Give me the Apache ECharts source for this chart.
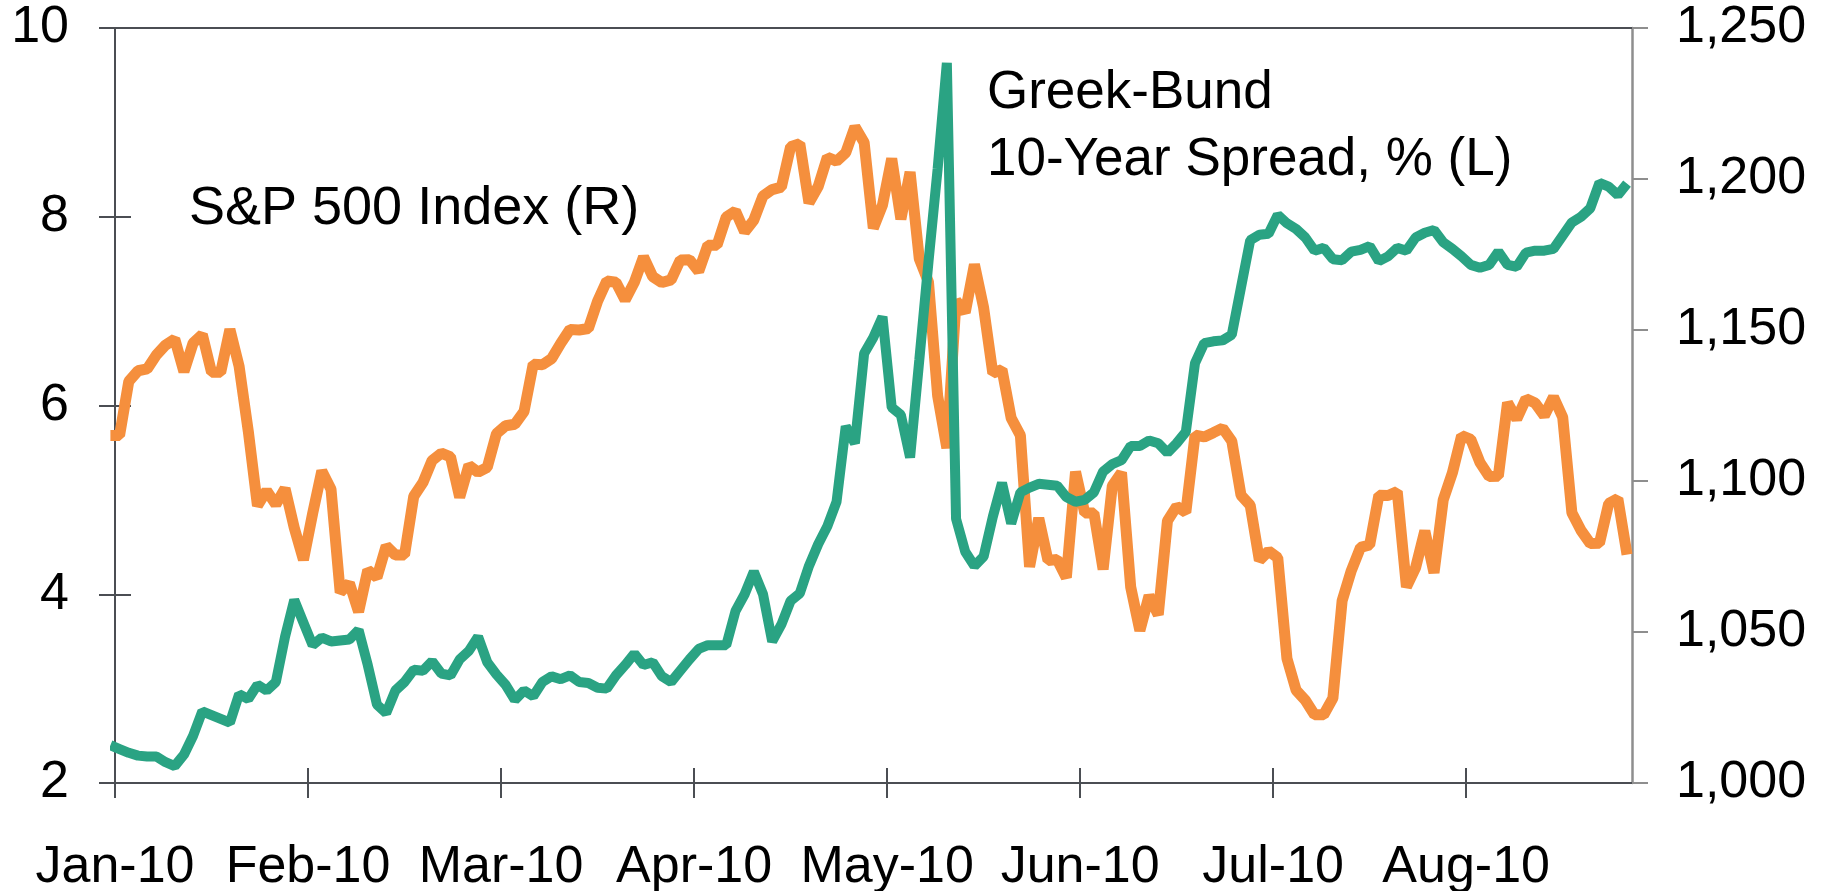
<!DOCTYPE html>
<html>
<head>
<meta charset="utf-8">
<title>Greek-Bund spread and S&amp;P 500, 2010</title>
<script src="https://cdn.jsdelivr.net/npm/echarts@6/dist/echarts.min.js"></script>
<style>
    html, body { margin: 0; padding: 0; background: #ffffff; }
    #chart { width: 1826px; height: 891px; }
</style>
</head>
<body>
<div id="chart"></div>
<script>
// one point per weekday: 31 Dec 2009 is index 0, 19 Aug 2010 is index 165
// (market holidays repeat the previous close)
var tickLabels = ['Jan-10', 'Feb-10', 'Mar-10', 'Apr-10', 'May-10', 'Jun-10', 'Jul-10', 'Aug-10'];

// S&P 500 Index, right axis
var spx = [
    1115.1, 1115.1, 1133.0, 1136.5, 1137.1, 1141.7, 1145.0, 1147.0, 1136.2, 1145.7,
    1148.5, 1136.0, 1136.0, 1150.2, 1138.0, 1116.5, 1091.8, 1096.8, 1092.2, 1097.5,
    1084.5, 1073.9, 1089.2, 1103.3, 1097.3, 1063.1, 1066.2, 1056.7, 1070.5, 1068.1,
    1078.5, 1075.5, 1075.5, 1094.9, 1099.5, 1106.8, 1109.2, 1108.0, 1094.6, 1105.2,
    1102.9, 1104.5, 1115.7, 1118.3, 1118.8, 1123.0, 1138.7, 1138.5, 1140.5, 1145.6,
    1150.2, 1150.0, 1150.5, 1159.5, 1166.2, 1165.8, 1159.9, 1165.8, 1174.2, 1167.7,
    1165.7, 1166.6, 1173.2, 1173.3, 1169.4, 1178.1, 1178.1, 1187.4, 1189.4, 1182.5,
    1186.4, 1194.4, 1196.5, 1197.3, 1210.7, 1211.7, 1192.1, 1197.5, 1207.2, 1205.9,
    1208.7, 1217.3, 1212.1, 1183.7, 1191.4, 1206.8, 1186.7, 1202.3, 1173.6, 1165.9,
    1128.2, 1110.9, 1159.7, 1155.8, 1171.7, 1157.4, 1135.7, 1136.9, 1120.8, 1115.1,
    1071.6, 1087.7, 1073.7, 1074.0, 1068.0, 1103.1, 1089.4, 1089.4, 1070.7, 1098.4,
    1102.8, 1064.9, 1050.5, 1062.0, 1055.7, 1086.8, 1091.6, 1089.6, 1115.2, 1114.6,
    1116.0, 1117.5, 1113.2, 1095.3, 1092.0, 1073.7, 1076.8, 1074.6, 1041.2, 1030.7,
    1027.4, 1022.6, 1022.6, 1028.1, 1060.3, 1070.3, 1078.0, 1078.8, 1095.3, 1095.2,
    1096.5, 1064.9, 1071.3, 1083.5, 1069.6, 1093.7, 1102.7, 1115.0, 1113.8, 1106.1,
    1101.5, 1101.6, 1125.9, 1120.5, 1127.2, 1125.8, 1121.6, 1127.8, 1121.1, 1089.5,
    1083.6, 1079.3, 1079.4, 1092.5, 1094.2, 1075.6
];

// Greek-Bund 10-year spread in %, left axis
var spread = [
    2.40, 2.36, 2.32, 2.29, 2.28, 2.28, 2.22, 2.18, 2.30, 2.50,
    2.76, 2.72, 2.68, 2.64, 2.94, 2.89, 3.04, 2.98, 3.07, 3.55,
    3.94, 3.70, 3.46, 3.54, 3.50, 3.51, 3.52, 3.62, 3.25, 2.83,
    2.74, 2.98, 3.07, 3.20, 3.19, 3.29, 3.16, 3.14, 3.31, 3.40,
    3.55, 3.28, 3.15, 3.04, 2.88, 2.98, 2.92, 3.07, 3.13, 3.10,
    3.14, 3.07, 3.06, 3.01, 3.00, 3.14, 3.25, 3.37, 3.25, 3.28,
    3.13, 3.07, 3.19, 3.31, 3.42, 3.46, 3.46, 3.46, 3.82, 4.00,
    4.24, 4.00, 3.50, 3.68, 3.93, 4.01, 4.30, 4.53, 4.72, 4.98,
    5.78, 5.60, 6.55, 6.72, 6.94, 5.98, 5.90, 5.45, 6.48, 7.52,
    8.51, 9.63, 4.80, 4.45, 4.30, 4.40, 4.82, 5.18, 4.75, 5.08,
    5.13, 5.17, 5.16, 5.15, 5.03, 4.98, 5.00, 5.08, 5.30, 5.38,
    5.42, 5.57, 5.57, 5.63, 5.60, 5.50, 5.60, 5.72, 6.45, 6.66,
    6.68, 6.69, 6.75, 7.25, 7.75, 7.81, 7.82, 8.02, 7.93, 7.87,
    7.78, 7.64, 7.67, 7.55, 7.54, 7.63, 7.65, 7.69, 7.53, 7.58,
    7.67, 7.64, 7.78, 7.83, 7.86, 7.73, 7.66, 7.58, 7.49, 7.46,
    7.49, 7.63, 7.49, 7.47, 7.62, 7.64, 7.64, 7.66, 7.80, 7.94,
    8.00, 8.09, 8.36, 8.32, 8.23, 8.35
];

var tickStep = 21;     // weekdays between two month ticks
var firstTick = 0.5;   // the axis starts half a day after the first point

var font = '"Liberation Sans", Arial, Helvetica, sans-serif';
var dark = '#4b4e53', light = '#8e8e8e';

var tickValues = tickLabels.map(function (name, k) { return firstTick + k * tickStep; });
var xMin = firstTick, xMax = firstTick + 165.04;

function toPoints(arr) {
    return arr.map(function (v, i) { return [i, v]; });
}

var myChart = echarts.init(document.getElementById('chart'));

var option = {
    animation: false,
    backgroundColor: '#ffffff',
    grid: {
        left: 115, right: 194, top: 28, bottom: 108,
        containLabel: false,
        outerBoundsMode: 'none'
    },
    xAxis: [
        {   // main axis: line, ticks below, month labels
            type: 'value', position: 'bottom',
            min: xMin, max: xMax, interval: tickStep,
            splitLine: { show: false },
            axisLine: { lineStyle: { color: dark, width: 2 } },
            axisTick: { length: 15, lineStyle: { color: dark, width: 2 }, customValues: tickValues },
            axisLabel: {
                customValues: tickValues,
                margin: 59,
                color: '#000', fontSize: 52, fontFamily: font,
                formatter: function (v) {
                    return tickLabels[Math.round((v - firstTick) / tickStep)] || '';
                }
            }
        },
        {   // same axis again, only for the half of each tick above the line
            type: 'value', position: 'bottom',
            min: xMin, max: xMax, interval: tickStep,
            splitLine: { show: false },
            axisLine: { show: false },
            axisTick: { inside: true, length: 15, lineStyle: { color: dark, width: 2 }, customValues: tickValues },
            axisLabel: { show: false }
        },
        {   // frame line on top
            type: 'value', position: 'top',
            min: xMin, max: xMax,
            splitLine: { show: false },
            axisLine: { lineStyle: { color: dark, width: 2 } },
            axisTick: { show: false },
            axisLabel: { show: false }
        }
    ],
    yAxis: [
        {
            type: 'value', position: 'left',
            min: 2, max: 10, interval: 2,
            splitLine: { show: false },
            axisLine: { show: true, lineStyle: { color: dark, width: 2 } },
            axisTick: { show: true, length: 16, lineStyle: { color: dark, width: 2 } },
            axisLabel: { margin: 46, color: '#000', fontSize: 52, fontFamily: font }
        },
        {
            type: 'value', position: 'right',
            min: 1000, max: 1250, interval: 50,
            splitLine: { show: false },
            axisLine: { show: true, lineStyle: { color: light, width: 2.5 } },
            axisTick: { show: true, length: 16, lineStyle: { color: light, width: 2 } },
            axisLabel: {
                margin: 44, color: '#000', fontSize: 52, fontFamily: font,
                formatter: function (v) { return v.toLocaleString('en-US'); }
            }
        },
        {   // inner half of the left ticks
            type: 'value', position: 'left',
            min: 2, max: 10, interval: 2,
            splitLine: { show: false },
            axisLine: { show: false },
            axisTick: { show: true, inside: true, length: 16, lineStyle: { color: dark, width: 2 } },
            axisLabel: { show: false }
        }
    ],
    series: [
        {
            name: 'S&P 500 Index (R)',
            type: 'line',
            xAxisIndex: 0, yAxisIndex: 1,
            data: toPoints(spx),
            showSymbol: false,
            lineStyle: { color: '#f58f3d', width: 11 }
        },
        {
            name: 'Greek-Bund 10-Year Spread, % (L)',
            type: 'line',
            xAxisIndex: 0, yAxisIndex: 0,
            data: toPoints(spread),
            showSymbol: false,
            lineStyle: { color: '#2aa383', width: 10 }
        }
    ],
    graphic: [
        {
            type: 'text', x: 189, y: 209,
            style: {
                text: 'S&P 500 Index (R)',
                font: '54px ' + font, fill: '#000',
                align: 'left', verticalAlign: 'middle'
            }
        },
        {
            type: 'text', x: 987, y: 127,
            style: {
                text: 'Greek-Bund\n10-Year Spread, % (L)',
                font: '53px ' + font, fill: '#000', lineHeight: 67,
                align: 'left', verticalAlign: 'middle'
            }
        }
    ]
};

myChart.setOption(option);
</script>
</body>
</html>
